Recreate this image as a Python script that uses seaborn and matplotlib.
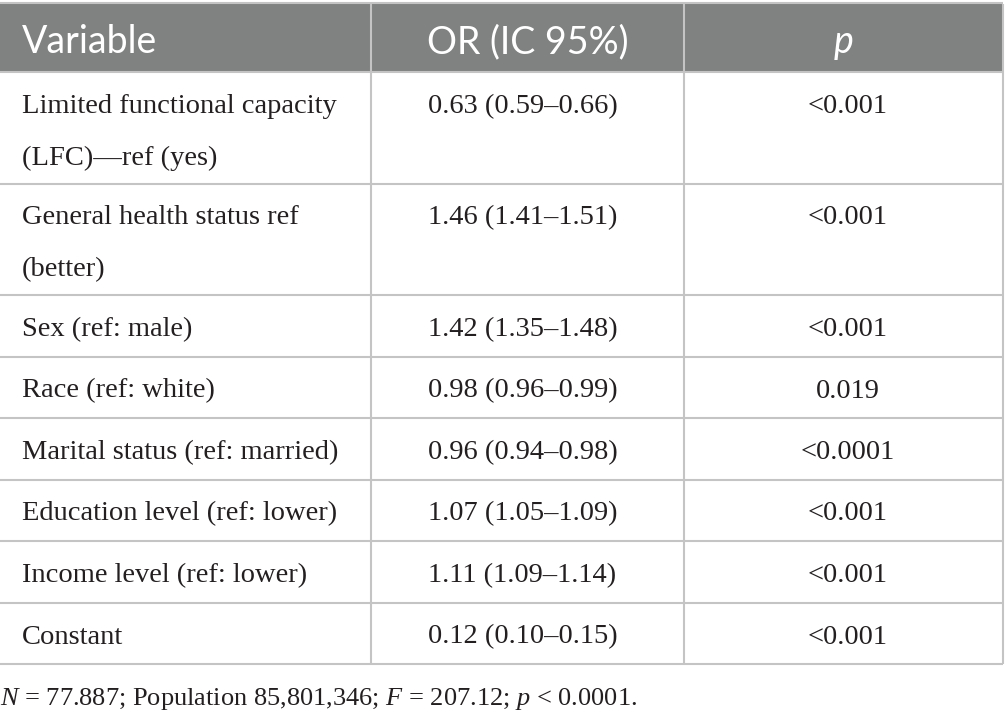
import matplotlib
matplotlib.use("Agg")
import matplotlib.pyplot as plt
import seaborn as sns

sns.set_theme(style="white")
plt.rcParams['font.family'] = ['Liberation Serif', 'DejaVu Serif']
plt.rcParams['mathtext.fontset'] = 'custom'
plt.rcParams['mathtext.rm'] = 'Liberation Serif'
plt.rcParams['mathtext.it'] = 'Liberation Serif:italic'

# table content
headers = ["Variable", "OR (IC 95%)", "p"]
variables = [
    "Limited functional capacity\n(LFC)\u2014ref (yes)",
    "General health status ref\n(better)",
    "Sex (ref: male)",
    "Race (ref: white)",
    "Marital status (ref: married)",
    "Education level (ref: lower)",
    "Income level (ref: lower)",
    "Constant",
]
odds_ratio = [
    "0.63 (0.59\u20130.66)",
    "1.46 (1.41\u20131.51)",
    "1.42 (1.35\u20131.48)",
    "0.98 (0.96\u20130.99)",
    "0.96 (0.94\u20130.98)",
    "1.07 (1.05\u20131.09)",
    "1.11 (1.09\u20131.14)",
    "0.12 (0.10\u20130.15)",
]
p_values = ["<0.001", "<0.001", "<0.001", "0.019", "<0.0001", "<0.001", "<0.001", "<0.001"]
footnote = r"$N$ = 77.887; Population 85,801,346; $F$ = 207.12; $p$ < 0.0001."

# layout (pixels)
W, H = 1005, 716
col_edges = [0, 371, 684, 1003]
table_top = 4
header_h = 68
line_h = 50
row_pad = 11.5
grid_col = "#c4c4c4"
head_col = "#808281"
text_col = "#231f20"

fig = plt.figure(figsize=(W / 100, H / 100), dpi=100)
ax = fig.add_axes([0, 0, 1, 1])
ax.set_xlim(0, W)
ax.set_ylim(H, 0)
ax.axis("off")

# header
ax.fill_between([col_edges[0], col_edges[-1]], table_top, table_top + header_h,
                color=head_col, lw=0)
hx = [22, (col_edges[1] + col_edges[2]) / 2, (col_edges[2] + col_edges[3]) / 2]
ha = ["left", "center", "center"]
for i, h in enumerate(headers):
    ax.text(hx[i], table_top + 49, h, color="white", fontsize=27,
            family=["Lato", "DejaVu Sans"], ha=ha[i], va="baseline",
            style="italic" if h == "p" else "normal")

# rows
y = table_top + header_h
tops = [y]
for var, orv, pv in zip(variables, odds_ratio, p_values):
    n = var.count("\n") + 1
    rh = n * line_h + row_pad
    for k, line in enumerate(var.split("\n")):
        ax.text(22, y + 41 + k * 52, line, color=text_col, fontsize=20.5,
                ha="left", va="baseline")
    ax.text(hx[1] - 5, y + 41, orv, color=text_col, fontsize=20.5,
            ha="center", va="baseline")
    ax.text(hx[2] + 4, y + 41, pv, color=text_col, fontsize=20.5,
            ha="center", va="baseline")
    y += rh
    tops.append(y)

# grid lines
ax.hlines([table_top - 1], col_edges[0], col_edges[-1], color=grid_col, lw=1.5)
ax.hlines(tops, col_edges[0], col_edges[-1], color=grid_col, lw=1.5)
for xe in col_edges[1:]:
    ax.vlines(xe, table_top, tops[-1], color=grid_col, lw=1.5)

ax.text(0, 705, footnote, color=text_col, fontsize=19, ha="left", va="baseline")

fig.savefig("out.png", dpi=100)
